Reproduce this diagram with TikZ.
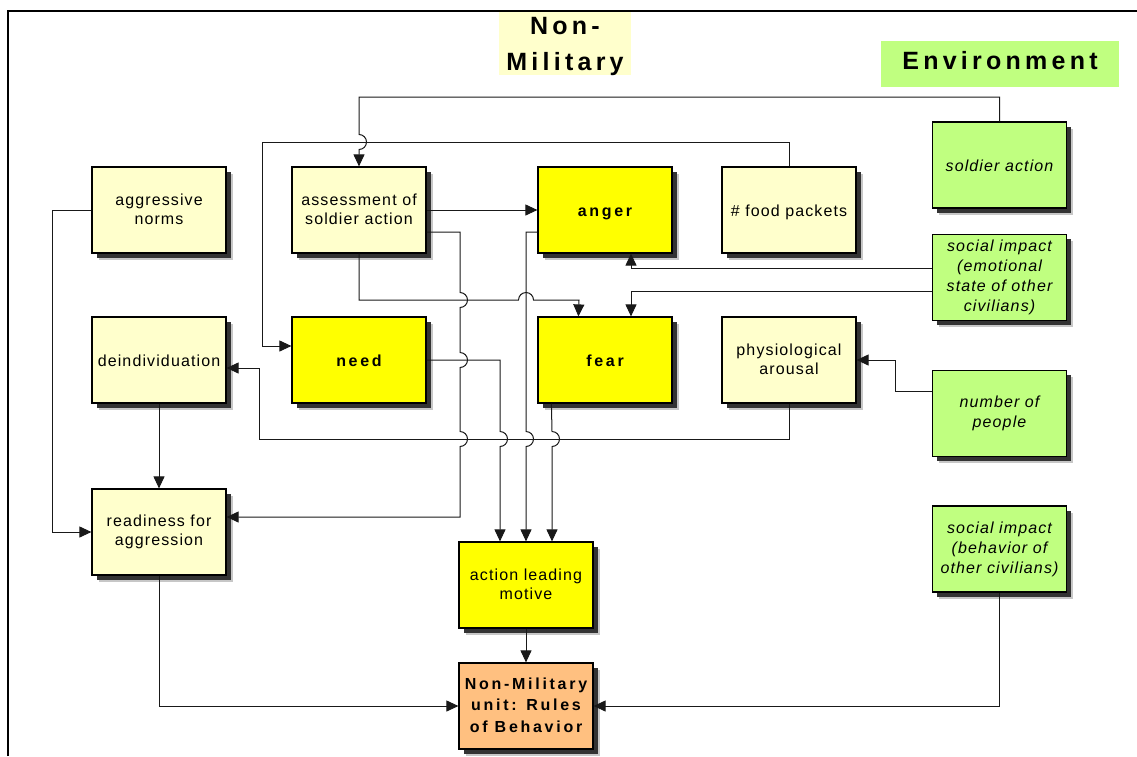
\documentclass[tikz,border=0pt]{standalone}
\usepackage{fontspec}
\setmainfont{Liberation Sans}
\newfontfamily\boxfont[LetterSpace=7]{Liberation Sans}
\newfontfamily\strongfont[LetterSpace=17]{Liberation Sans}
\usetikzlibrary{arrows.meta,shadows,calc}
\definecolor{paleyellow}{HTML}{FFFFCC}
\definecolor{brightyellow}{HTML}{FFFF00}
\definecolor{envgreen}{HTML}{C0FF80}
\definecolor{peach}{HTML}{FFC080}

\tikzset{
  box/.style={draw=black, line width=1.2pt, minimum width=134pt, minimum height=86pt,
    inner sep=0pt, align=center, text=black,
    font=\boxfont\fontsize{16}{19.5}\selectfont,
    execute at begin node={\rule{0pt}{15.5pt}},
    execute at end node={\rule[-2pt]{0pt}{0pt}},
    general shadow={shadow xshift=6.5pt, shadow yshift=-6.5pt, fill=black!22, draw=none},
    general shadow={shadow xshift=4.5pt, shadow yshift=-4.5pt, fill=black!80, draw=none}},
  pale/.style={box, fill=paleyellow},
  hot/.style={box, fill=brightyellow, font=\strongfont\bfseries\fontsize{16}{19.5}\selectfont},
  motive/.style={box, fill=brightyellow},
  env/.style={box, fill=envgreen, font=\boxfont\itshape\fontsize{16}{20}\selectfont},
  rulebox/.style={box, fill=peach, font=\strongfont\bfseries\fontsize{16}{21.7}\selectfont},
  heading/.style={font=\strongfont\bfseries\fontsize{25}{36}\selectfont, align=center, inner sep=0pt},
  link/.style={draw=black!90, line width=1pt},
  arr/.style={link, -{Triangle[length=12pt,width=11pt]}}
}

\begin{document}
\begin{tikzpicture}[x=1pt, y=-1pt]
\useasboundingbox (0,0) rectangle (1137,756);

% frame
\draw[line width=2pt] (8,756) -- (8,11) -- (1137,11);

% headings
\fill[paleyellow] (499,12) rectangle (631,75);
\node[heading] (nmhead) at (565,46.4) {Non-\\Military};
\fill[envgreen] (881,41) rectangle (1119,87);
\node[heading] (envhead) at (1000,60.5) {Environment};

% boxes
\node[pale] (aggr)   at (159,210) {aggressive\\norms};
\node[pale] (assess) at (359,210) {assessment of\\soldier action};
\node[hot]  (anger)  at (605,210) {anger};
\node[pale] (food)   at (789,210) {\# food packets};
\node[env]  (soldier) at (999.5,165) {soldier action};
\node[env]  (socemo) at (999.5,277.5) {social impact\\(emotional\\state of other\\civilians)};
\node[pale] (deind)  at (159,360) {deindividuation};
\node[hot]  (need)   at (359,360) {need};
\node[hot]  (fear)   at (605,360) {fear};
\node[pale] (phys)   at (789,360) {physiological\\arousal};
\node[env]  (people) at (999.5,413.5) {number of\\people};
\node[pale] (ready)  at (159,532) {readiness for\\aggression};
\node[env]  (socbeh) at (999.5,549) {social impact\\(behavior of\\other civilians)};
\node[motive] (action) at (526,585) {action leading\\motive};
\node[rulebox] (rules) at (526,706) {Non-Military\\unit: Rules\\of Behavior};

% connectors
% soldier action -> assessment (hops over the food packets line)
\draw[arr] (soldier.north) |- (359,97) -- (359,134.5)
  arc[start angle=-90, end angle=90, radius=7.5] -- (assess.north);
% food packets -> need
\draw[arr] (food.north) |- (262,142) |- ($(need.west)+(0,-14)$);
% aggressive norms -> readiness
\draw[arr] (aggr.west) -- (52,210) |- (ready.west);
% assessment -> anger
\draw[arr] (assess.east) -- (anger.west);
% assessment -> readiness (three hops)
\draw[arr] ($(assess.east)+(0,22)$) -- (460,232) -- (460,292.5)
  arc[start angle=-90, end angle=90, radius=7.5] -- (460,352.5)
  arc[start angle=-90, end angle=90, radius=7.5] -- (460,431.5)
  arc[start angle=-90, end angle=90, radius=7.5] -- (460,517)
  -- ($(ready.east)+(0,-15)$);
% assessment -> fear (hops over the anger line)
\draw[arr] (assess.south) -- (359,300) -- (518.5,300)
  arc[start angle=180, end angle=360, radius=7.5] -- (579,300)
  -- ($(fear.north west)+(41,0)$);
% anger -> action leading motive
\draw[arr] ($(anger.west)+(0,22)$) -- (526,232) -- (526,431.5)
  arc[start angle=-90, end angle=90, radius=7.5] -- (action.north);
% need -> action leading motive
\draw[arr] (need.east) -- (500,360) -- (500,431.5)
  arc[start angle=-90, end angle=90, radius=7.5] -- ($(action.north)+(-26,0)$);
% fear -> action leading motive
\draw[arr] ($(fear.south west)+(14,0)$) -- (552,431.5)
  arc[start angle=-90, end angle=90, radius=7.5] -- ($(action.north)+(26,0)$);
% social impact (emotional) -> anger, fear
\draw[arr] ($(socemo.west)+(0,-9.5)$) -| ($(anger.south)+(26,0)$);
\draw[arr] ($(socemo.west)+(0,13.5)$) -| ($(fear.north)+(26,0)$);
% number of people -> physiological arousal
\draw[arr] ($(people.west)+(0,-22.5)$) -- (895,391) |- (phys.east);
% physiological arousal -> deindividuation
\draw[arr] (phys.south) |- (259,439) |- ($(deind.east)+(0,8)$);
% deindividuation -> readiness
\draw[arr] (deind.south) -- (ready.north);
% readiness -> rules of behavior
\draw[arr] (ready.south) |- (rules.west);
% action leading motive -> rules of behavior
\draw[arr] (action.south) -- (rules.north);
% social impact (behavior) -> rules of behavior
\draw[arr] (socbeh.south) |- (rules.east);
\end{tikzpicture}
\end{document}
